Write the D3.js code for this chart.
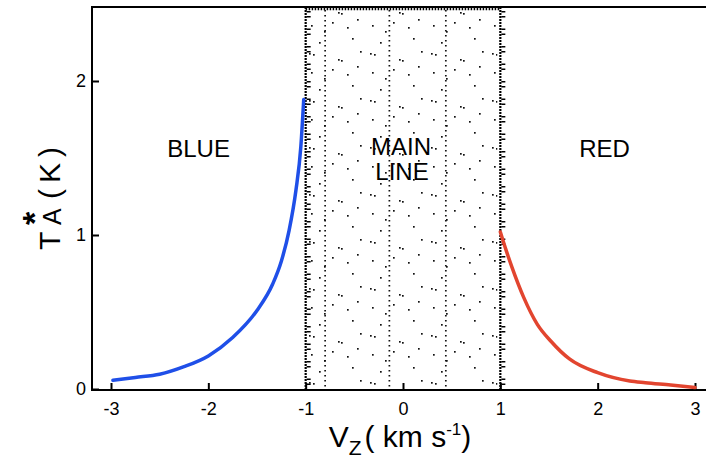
<!DOCTYPE html>
<html><head><meta charset="utf-8">
<script src="https://cdn.jsdelivr.net/npm/d3@7"></script>
<style>body{margin:0;background:#fff}</style></head>
<body>
<script>
// ---- data ----
const blueV = [-2.98, -2.75, -2.5, -2.25, -2.0, -1.75, -1.5, -1.34, -1.25, -1.17, -1.10, -1.05, -1.02];
const blueT = [0.057, 0.075, 0.096, 0.145, 0.215, 0.334, 0.51, 0.68, 0.83, 1.03, 1.29, 1.57, 1.88];
const redV  = [1.0, 1.06, 1.12, 1.24, 1.38, 1.52, 1.71, 2.0, 2.33, 2.49, 2.75, 3.0];
const redT  = [1.02, 0.90, 0.79, 0.595, 0.42, 0.31, 0.195, 0.106, 0.052, 0.041, 0.026, 0.01];
const xTicks = [-3, -2, -1, 0, 1, 2, 3];
const yTicks = [0, 1, 2];
const mainEdges = [-1, 1];
const mainCols = [-0.80, -0.14, 0.44];
const regionLabels = ["BLUE", "RED"];
const mainLabel = ["MAIN", "LINE"];

const W = 706, H = 462;
const FONT = "'Liberation Sans', Arial, sans-serif";
const svg = d3.select("body").append("svg").attr("width", W).attr("height", H)
  .style("font-family", FONT);

const x = d3.scaleLinear().domain([-3, 3]).range([111, 695]);
const y = d3.scaleLinear().domain([0, 2]).range([389, 81]);
const pL = 92, pR = 706, pT = 7, pB = 390;

// dotted texture pattern for main-line region (decorative)
const defs = svg.append("defs");
const pat = defs.append("pattern").attr("id", "dots").attr("patternUnits", "userSpaceOnUse")
  .attr("width", 61).attr("height", 47);
[[4,6],[8,7],[19,31],[33,12],[36,13],[47,38],[14,42],[55,4],[27,22],[6,25],[42,27],[52,19]].forEach(p => {
  pat.append("rect").attr("x", p[0]).attr("y", p[1]).attr("width", 1.7).attr("height", 1.7).attr("fill", "#111");
});
svg.append("rect").attr("x", x(-0.97)).attr("y", pT + 5).attr("width", x(0.97) - x(-0.97))
  .attr("height", pB - pT - 7).attr("fill", "url(#dots)");

// dotted interior columns
svg.selectAll("line.col").data(mainCols).join("line").attr("class", "col")
  .attr("x1", d => x(d)).attr("x2", d => x(d)).attr("y1", pT + 3).attr("y2", pB)
  .attr("stroke", "#111").attr("stroke-width", 1.7).attr("stroke-dasharray", "1.5,3.5");

// region edges (dense dashed with little ticks)
svg.selectAll("line.edge").data(mainEdges).join("line").attr("class", "edge")
  .attr("x1", d => x(d)).attr("x2", d => x(d)).attr("y1", pT).attr("y2", pB)
  .attr("stroke", "#000").attr("stroke-width", 2.2).attr("stroke-dasharray", "2,1");
svg.selectAll("line.edget").data(mainEdges).join("line").attr("class", "edget")
  .attr("x1", d => x(d) + 3).attr("x2", d => x(d) + 3).attr("y1", pT + 4).attr("y2", pB)
  .attr("stroke", "#000").attr("stroke-width", 4).attr("stroke-dasharray", "1.5,3.5,1.5,11");
// top dotted border of region
svg.append("line").attr("x1", x(-1)).attr("x2", x(1)).attr("y1", pT + 2).attr("y2", pT + 2)
  .attr("stroke", "#000").attr("stroke-width", 2.5).attr("stroke-dasharray", "1.5,1.5");

// frame
svg.append("path").attr("d", `M${pR},${pT}H${pL}V${pB}H${pR}`)
  .attr("fill", "none").attr("stroke", "#000").attr("stroke-width", 2);

// axes
const gx = svg.append("g").attr("transform", `translate(0,${pB})`)
  .call(d3.axisBottom(x).tickValues(xTicks).tickSize(-7).tickPadding(12)
    .tickFormat(d => d < 0 ? "-" + Math.abs(d) : String(d)));
gx.select(".domain").remove();
gx.selectAll(".tick line").attr("stroke", "#000").attr("stroke-width", 2);
gx.selectAll(".tick text").attr("font-size", 18).attr("font-family", FONT).attr("fill", "#000");

const gy = svg.append("g").attr("transform", `translate(${pL},0)`)
  .call(d3.axisLeft(y).tickValues(yTicks).tickSize(-7).tickPadding(6).tickFormat(d3.format("d")));
gy.select(".domain").remove();
gy.selectAll(".tick line").attr("stroke", "#000").attr("stroke-width", 2);
gy.selectAll(".tick text").attr("font-size", 18).attr("font-family", FONT).attr("fill", "#000");

// curves
const line = d3.line().x(d => x(d[0])).y(d => y(d[1])).curve(d3.curveMonotoneX);
svg.append("path").datum(blueV.map((v, i) => [v, blueT[i]])).attr("d", line)
  .attr("fill", "none").attr("stroke", "#1f4fe8").attr("stroke-width", 3.5).attr("stroke-linecap", "round");
svg.append("path").datum(redV.map((v, i) => [v, redT[i]])).attr("d", line)
  .attr("fill", "none").attr("stroke", "#e2452f").attr("stroke-width", 3.5).attr("stroke-linecap", "round");

// region labels
svg.append("text").attr("x", x(-2.1)).attr("y", 157).attr("text-anchor", "middle")
  .attr("font-size", 24).text(regionLabels[0]);
svg.append("text").attr("x", x(2.07)).attr("y", 157).attr("text-anchor", "middle")
  .attr("font-size", 24).text(regionLabels[1]);
svg.append("text").attr("x", x(-0.02)).attr("y", 155).attr("text-anchor", "middle")
  .attr("font-size", 24).text(mainLabel[0]);
svg.append("text").attr("x", x(-0.01)).attr("y", 180).attr("text-anchor", "middle")
  .attr("font-size", 24).text(mainLabel[1]);

// x-axis title: V_Z ( km s^-1 )
const xt = svg.append("text").attr("x", 400).attr("y", 447).attr("text-anchor", "middle").attr("font-size", 30);
xt.append("tspan").text("V");
xt.append("tspan").attr("font-size", 21).attr("dy", 8).text("Z");
xt.append("tspan").attr("dy", -8).attr("dx", 3).text("( km s");
xt.append("tspan").attr("font-size", 17).attr("dy", -12).text("-1");
xt.append("tspan").attr("dy", 12).text(")");

// y-axis title: T*_A (K)
const yt = svg.append("g").attr("transform", "translate(60,197) rotate(-90)");
yt.append("text").attr("x", -53).attr("y", 0).attr("font-size", 30).text("T");
yt.append("text").attr("x", -28).attr("y", -14).attr("font-size", 34).attr("font-weight", "bold").text("*");
yt.append("text").attr("x", -28).attr("y", 1).attr("font-size", 25).text("A");
yt.append("text").attr("x", -2).attr("y", 0).attr("font-size", 30).attr("letter-spacing", 6).text("(K)");
</script>
</body></html>
